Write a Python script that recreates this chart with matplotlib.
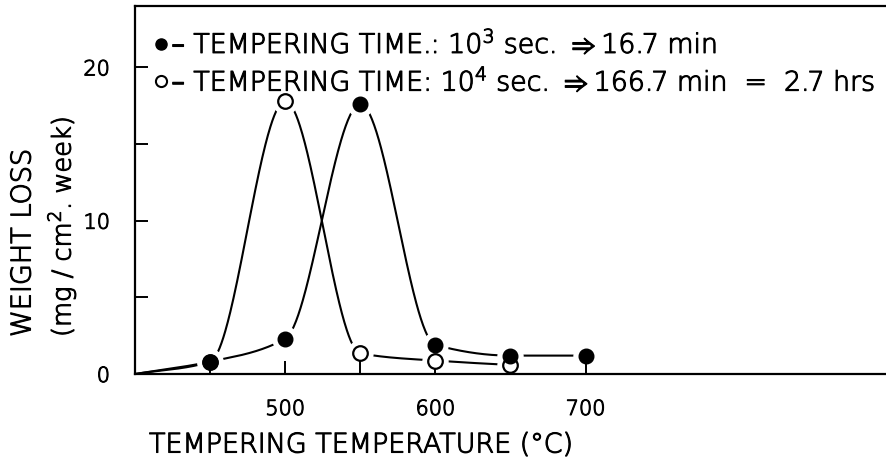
import numpy as np
import matplotlib
matplotlib.use("Agg")
import matplotlib.pyplot as plt
import matplotlib.patheffects as pe
from matplotlib.lines import Line2D
from matplotlib.text import Text

# Corrosion weight loss vs. tempering temperature for two tempering times
temps_short = [450, 500, 550, 600, 650, 700]          # 10^3 s tempering
loss_short = [0.8, 2.3, 17.6, 1.9, 1.2, 1.2]
temps_long = [450, 500, 550, 600, 650]                # 10^4 s tempering
loss_long = [0.8, 17.8, 1.35, 0.87, 0.59]
curve_origin_temp = 400
curve_origin_loss = 0.0

x_ticks = [450, 500, 550, 600, 650, 700]
x_tick_labels = ["", "500", "", "600", "", "700"]
y_ticks = [0, 5, 10, 15, 20]
y_tick_labels = ["0", "", "10", "", "20"]

label_short = "\u2013 TEMPERING TIME.: 10$^3$ sec. $\\Rightarrow$16.7 min"
label_long = "\u2013 TEMPERING TIME: 10$^4$ sec. $\\Rightarrow$166.7 min  =  2.7 hrs"
x_title = "TEMPERING TEMPERATURE (\u00b0C)"
y_title_1 = "WEIGHT LOSS"
y_title_2 = "(mg / cm$^2$. week)"

plt.rcParams["font.family"] = ["DejaVu Sans"]
plt.rcParams["mathtext.fontset"] = "dejavusans"
plt.rcParams["font.weight"] = "light"


def pchip_curve(x, y, n=600):
    """Monotone cubic (Fritsch-Carlson) curve through the given points."""
    x = np.asarray(x, float)
    y = np.asarray(y, float)
    h = np.diff(x)
    d = np.diff(y) / h
    m = np.zeros_like(y)
    for k in range(1, len(x) - 1):
        if d[k - 1] * d[k] > 0:
            w1 = 2 * h[k] + h[k - 1]
            w2 = h[k] + 2 * h[k - 1]
            m[k] = (w1 + w2) / (w1 / d[k - 1] + w2 / d[k])
    m[0] = d[0]
    m[-1] = d[-1]
    if len(d) > 1:
        if d[0] * d[1] <= 0:
            m[0] = 0.0
        if d[-1] * d[-2] <= 0:
            m[-1] = 0.0
    xs = np.linspace(x[0], x[-1], n)
    idx = np.clip(np.searchsorted(x, xs) - 1, 0, len(x) - 2)
    t = (xs - x[idx]) / h[idx]
    h00 = 2 * t**3 - 3 * t**2 + 1
    h10 = t**3 - 2 * t**2 + t
    h01 = -2 * t**3 + 3 * t**2
    h11 = t**3 - t**2
    ys = h00 * y[idx] + h10 * h[idx] * m[idx] + h01 * y[idx + 1] + h11 * h[idx] * m[idx + 1]
    return xs, ys


fig = plt.figure(figsize=(8.86, 4.65), dpi=100)
ax = fig.add_axes([135 / 886, 1 - 374 / 465, 1 - 135 / 886, (374 - 6) / 465])
ax.set_xlim(400, 900)
ax.set_ylim(0, 24)

lw_curve = 1.5
for temps, loss in ((temps_short, loss_short), (temps_long, loss_long)):
    xs, ys = pchip_curve([curve_origin_temp] + temps, [curve_origin_loss] + loss)
    ax.plot(xs, ys, color="black", lw=lw_curve, zorder=2, solid_capstyle="round")

# white halos leave a small gap between each curve and its markers
for temps, loss in ((temps_long, loss_long), (temps_short, loss_short)):
    ax.plot(temps, loss, ls="none", marker="o", ms=19, mfc="white",
            mec="none", zorder=3)
ax.plot(temps_long, loss_long, ls="none", marker="o", ms=10.5, mfc="white",
        mec="black", mew=1.6, zorder=4)
ax.plot(temps_short, loss_short, ls="none", marker="o", ms=10.5, mfc="black",
        mec="black", zorder=5)

ax.set_xticks(x_ticks)
ax.set_xticklabels(x_tick_labels)
ax.set_yticks(y_ticks)
ax.set_yticklabels(y_tick_labels)
ax.tick_params(direction="in", length=9.5, width=1.4, labelsize=15,
               colors="black")
ax.tick_params(axis="x", pad=18)
ax.tick_params(axis="y", pad=18)
ax.xaxis.set_zorder(3.5)
ax.yaxis.set_zorder(3.5)

for side in ("left", "bottom", "top"):
    ax.spines[side].set_linewidth(1.6)
    ax.spines[side].set_zorder(3.5)
ax.spines["right"].set_visible(False)

handles = [
    Line2D([], [], ls="none", marker="o", ms=8, mfc="black", mec="black"),
    Line2D([], [], ls="none", marker="o", ms=8, mfc="white", mec="black", mew=1.5),
]
ax.legend(handles, [label_short, label_long], loc="upper left",
          bbox_to_anchor=(154 / 886, 1 - 29 / 465), bbox_transform=fig.transFigure,
          frameon=False, fontsize=19.3, handlelength=0.5, handletextpad=0.15,
          labelspacing=0.32, borderpad=0, borderaxespad=0)

fig.text(149 / 886, 1 - 445 / 465, x_title, fontsize=19.4, ha="left",
         va="center")
fig.text(23 / 886, 1 - 337 / 465, y_title_1, fontsize=19.5, rotation=90,
         rotation_mode="anchor", ha="left", va="center")
fig.text(61 / 886, 1 - 337 / 465, y_title_2, fontsize=18.5, rotation=90,
         rotation_mode="anchor", ha="left", va="center")

# thin pen-like lettering: light face with a slight black outline
for txt in fig.findobj(Text):
    txt.set_color("black")
    txt.set_path_effects([pe.withStroke(linewidth=0.8, foreground="black")])

fig.savefig("out.png", dpi=100)
